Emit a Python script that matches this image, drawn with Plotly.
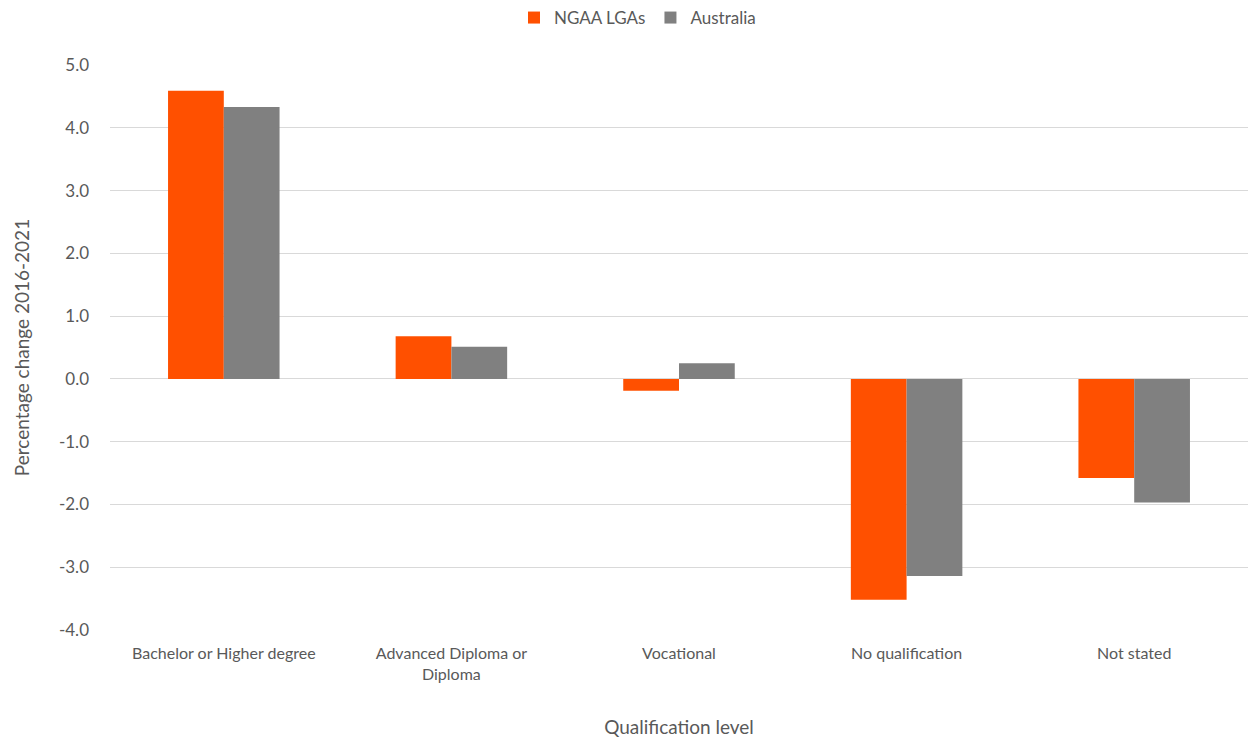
import plotly.graph_objects as go

categories = ["Bachelor or Higher degree", "Advanced Diploma or<br>Diploma", "Vocational",
              "No qualification", "Not stated"]
ngaa = [4.59, 0.68, -0.19, -3.52, -1.58]
australia = [4.33, 0.51, 0.25, -3.14, -1.97]
tick_vals = [-4, -3, -2, -1, 0, 1, 2, 3, 4, 5]
tick_text = ["-4.0", "-3.0", "-2.0", "-1.0", "0.0", "1.0", "2.0", "3.0", "4.0", "5.0"]

FONT = "Lato, 'Open Sans', sans-serif"

fig = go.Figure()
fig.add_trace(go.Bar(name="NGAA LGAs", x=categories, y=ngaa, marker_color="#FF5000",
                     marker_line_width=0))
fig.add_trace(go.Bar(name="Australia", x=categories, y=australia, marker_color="#808080",
                     marker_line_width=0))

fig.update_layout(
    width=1250, height=738,
    margin=dict(l=110, r=2, t=65, b=108),
    paper_bgcolor="white", plot_bgcolor="white",
    barmode="group", bargap=0.51, bargroupgap=0,
    font=dict(family=FONT, color="#595959", size=14),
    legend=dict(orientation="h", x=0.51, xanchor="center", xref="container",
                y=1.0, yanchor="top", yref="container",
                font=dict(size=17, color="#595959"),
                itemwidth=30, tracegroupgap=0),
    showlegend=True,
)
fig.update_xaxes(showline=False, ticks="", tickfont=dict(size=16, color="#595959"),
                 ticklabelstandoff=12,
                 title=dict(text="Qualification level", font=dict(size=19, color="#595959"), standoff=40))
fig.update_yaxes(range=[-4, 5], tickvals=tick_vals, ticktext=tick_text,
                 showgrid=True, gridcolor="#D9D9D9", gridwidth=1,
                 zeroline=True, zerolinecolor="#D9D9D9", zerolinewidth=1,
                 tickfont=dict(size=17, color="#595959"), ticks="", ticklen=0,
                 ticklabelstandoff=20,
                 title=dict(text="Percentage change 2016-2021", font=dict(size=19, color="#595959"), standoff=24))

fig.write_html("out.html")
